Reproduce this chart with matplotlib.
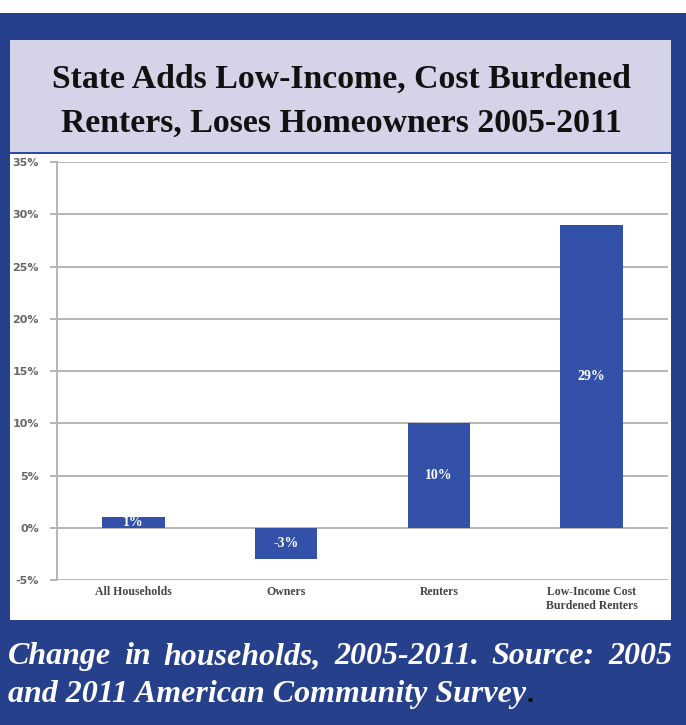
import matplotlib.pyplot as plt
from matplotlib.patches import Rectangle
from matplotlib.ticker import FuncFormatter

W, H = 686, 725

categories = ['All Households', 'Owners', 'Renters', 'Low-Income Cost\nBurdened Renters']
changes = [1, -3, 10, 29]
bar_labels = ['1%', '-3%', '10%', '29%']
y_ticks = [-5, 0, 5, 10, 15, 20, 25, 30, 35]

title_lines = ['State Adds Low-Income, Cost Burdened', 'Renters, Loses Homeowners 2005-2011']
caption_lines = ['Change in households, 2005-2011. Source: 2005',
                 'and 2011 American Community Survey']

BLUE = '#27408c'
LAVENDER = '#d4d3e7'
BAR = '#3451a9'
SERIF = ['Liberation Serif', 'DejaVu Serif']


def px_rect(fig, x0, y0, x1, y1, color, z=0):
    """Rectangle given in pixel coords (origin top-left)."""
    fig.add_artist(Rectangle((x0 / W, 1 - y1 / H), (x1 - x0) / W, (y1 - y0) / H,
                             transform=fig.transFigure, facecolor=color,
                             edgecolor='none', zorder=z))


fig = plt.figure(figsize=(W / 100, H / 100), dpi=100)
fig.patch.set_facecolor('white')

# page frame
px_rect(fig, 0, 13, W, H, BLUE, z=-3)
px_rect(fig, 10, 40, 671, 152, LAVENDER, z=-2)
px_rect(fig, 10, 152, 671, 154, '#2f4aa0', z=-2)
px_rect(fig, 10, 154, 671, 620, 'white', z=-2)

for i, line in enumerate(title_lines):
    fig.text(341 / W, 1 - (79 + 44 * i) / H, line, ha='center', va='center',
             fontsize=24.3, fontweight='bold', family=SERIF, color='#111111')

# chart
ax = fig.add_axes([57 / W, 1 - 580 / H, 611 / W, 418 / H])
ax.set_facecolor('white')
x = list(range(len(categories)))
bars = ax.bar(x, changes, width=0.41, color=BAR, zorder=3)
for b, lab, v in zip(bars, bar_labels, changes):
    ax.text(b.get_x() + b.get_width() / 2, v / 2, lab, ha='center', va='center',
            color='white', fontsize=10, fontweight='bold', family=SERIF, zorder=4)

ax.set_xlim(-0.5, len(categories) - 0.5)
ax.set_ylim(-5, 35)
ax.set_yticks(y_ticks)
ax.yaxis.set_major_formatter(FuncFormatter(lambda v, _: f'{v:.0f}%'))
ax.yaxis.grid(True, color='#b5b5b5', linewidth=1.4, zorder=0)
ax.set_axisbelow(True)
ax.set_xticks(x)
ax.set_xticklabels(categories, family=SERIF, fontsize=8.5, color='#444444',
                   linespacing=1.3, fontweight='bold')
ax.tick_params(axis='x', length=0, pad=4)
ax.tick_params(axis='y', length=5, color='#b5b5b5', width=1.4, labelsize=8,
               labelcolor='#666666', pad=8)
for lab in ax.get_yticklabels():
    lab.set_fontweight('bold')
for s in ['top', 'right', 'bottom']:
    ax.spines[s].set_visible(False)
ax.spines['left'].set_color('#b5b5b5')
ax.spines['left'].set_linewidth(1.4)

# caption, justified first line
fig.canvas.draw()
renderer = fig.canvas.get_renderer()
cap_kw = dict(fontsize=23, fontweight='bold', style='italic', family=SERIF,
              color='white', va='baseline')
words = caption_lines[0].split(' ')
left, right = 8, 672
texts = [fig.text(0, 0, w, **cap_kw) for w in words]
widths = [t.get_window_extent(renderer).width for t in texts]
gap = (right - left - sum(widths)) / (len(words) - 1)
pos = left
for t, wd in zip(texts, widths):
    t.set_position((pos / W, 1 - 664 / H))
    pos += wd + gap
t2 = fig.text(left / W, 1 - 702 / H, caption_lines[1], ha='left', **cap_kw)
t2_ext = t2.get_window_extent(renderer)
fig.text(t2_ext.x1 / W + 0.001, 1 - 702 / H, '.', fontsize=20, fontweight='bold',
         family=SERIF, color='black', va='baseline')

fig.savefig('out.png', dpi=100, facecolor=fig.get_facecolor())
